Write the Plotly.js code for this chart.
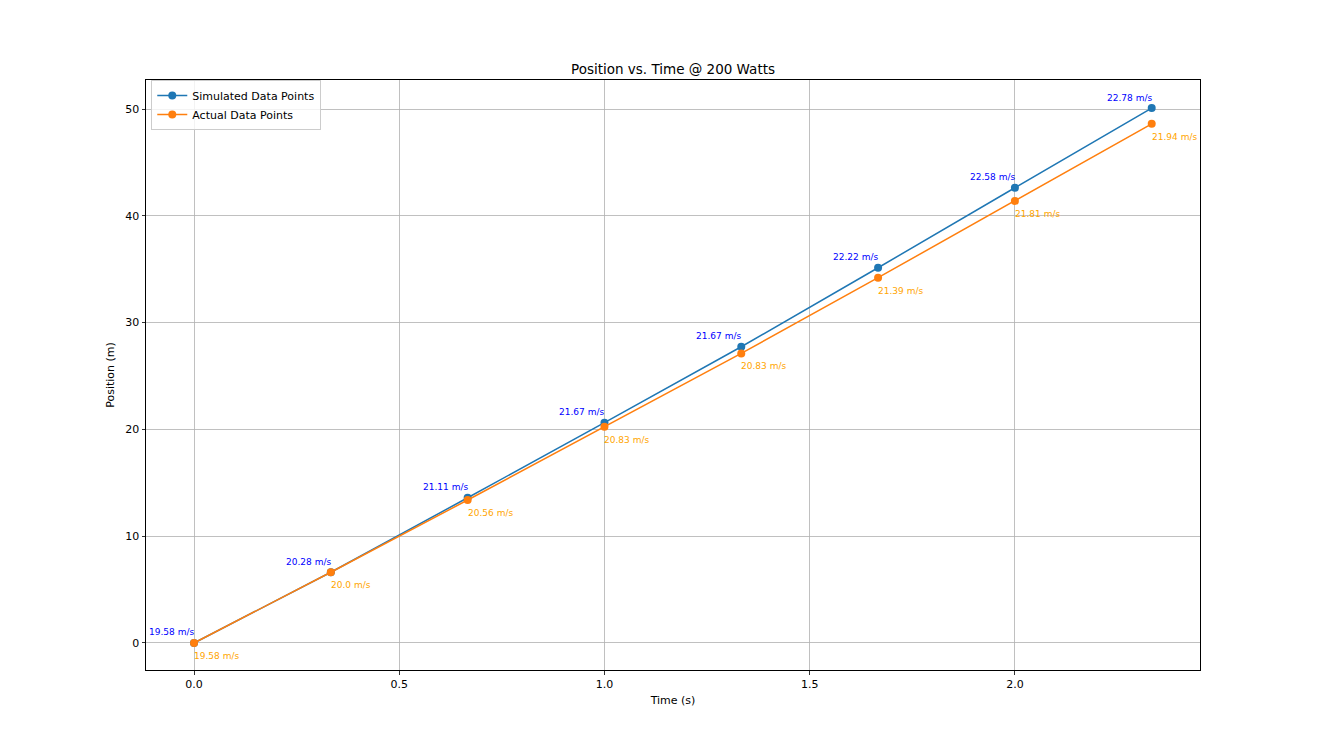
<!DOCTYPE html>
<html>
<head>
<meta charset="utf-8">
<script src="https://cdn.plot.ly/plotly-3.0.1.min.js"></script>
<style>html,body{margin:0;padding:0;background:#fff;}#chart{width:1322px;height:730px;}</style>
</head>
<body>
<div id="chart"></div>
<script>
// Data
const timeS = [0, 1/3, 2/3, 1, 4/3, 5/3, 2, 7/3];
const simulatedPos = [0, 6.62, 13.6, 20.63, 27.74, 35.14, 42.63, 50.09];
const actualPos = [0, 6.62, 13.39, 20.25, 27.12, 34.21, 41.39, 48.62];
const simulatedSpeed = ["19.58", "20.28", "21.11", "21.67", "21.67", "22.22", "22.58", "22.78"];
const actualSpeed = ["19.58", "20.0", "20.56", "20.83", "20.83", "21.39", "21.81", "21.94"];
const xTicks = [0, 0.5, 1.0, 1.5, 2.0];
const xTickText = ["0.0", "0.5", "1.0", "1.5", "2.0"];
const yTicks = [0, 10, 20, 30, 40, 50];

const font = "DejaVu Sans, sans-serif";

const traces = [
  {
    x: timeS, y: simulatedPos, type: "scatter", mode: "lines+markers",
    name: "Simulated Data Points",
    line: {color: "#1f77b4", width: 1.5},
    marker: {color: "#1f77b4", size: 8}
  },
  {
    x: timeS, y: actualPos, type: "scatter", mode: "lines+markers",
    name: "Actual Data Points",
    line: {color: "#ff7f0e", width: 1.5},
    marker: {color: "#ff7f0e", size: 8}
  }
];

const annotations = [];
timeS.forEach((t, i) => {
  annotations.push({
    x: t, y: simulatedPos[i], xref: "x", yref: "y",
    text: simulatedSpeed[i] + " m/s", showarrow: false,
    xanchor: "right", yanchor: "middle", yshift: 10.5, xshift: 2,
    font: {family: font, size: 9, color: "#0000ff"}
  });
  annotations.push({
    x: t, y: actualPos[i], xref: "x", yref: "y",
    text: actualSpeed[i] + " m/s", showarrow: false,
    xanchor: "left", yanchor: "middle", yshift: -13, xshift: -2,
    font: {family: font, size: 9, color: "#ffa500"}
  });
});

const layout = {
  width: 1322, height: 730,
  paper_bgcolor: "#fff", plot_bgcolor: "#fff",
  margin: {l: 146, r: 122, t: 80, b: 60},
  font: {family: font, size: 11, color: "#000"},
  title: {text: "Position vs. Time @ 200 Watts", font: {family: font, size: 13.5, color: "#000"},
          x: 0.5, xanchor: "center", y: 1 - 69/730, yanchor: "middle", xref: "paper"},
  xaxis: {
    range: [-0.117, 2.451], tickvals: xTicks, ticktext: xTickText,
    showgrid: true, gridcolor: "#b0b0b0", gridwidth: 0.8, zeroline: false,
    showline: true, linecolor: "#000", linewidth: 1, mirror: true,
    ticks: "outside", ticklen: 3.5, tickcolor: "#000", tickwidth: 0.8,
    tickfont: {family: font, size: 11, color: "#000"},
    title: {text: "Time (s)", font: {family: font, size: 11, color: "#000"}, standoff: 6}
  },
  yaxis: {
    range: [-2.53, 52.72], tickvals: yTicks,
    showgrid: true, gridcolor: "#b0b0b0", gridwidth: 0.8, zeroline: false,
    showline: true, linecolor: "#000", linewidth: 1, mirror: true,
    ticks: "outside", ticklen: 3.5, tickcolor: "#000", tickwidth: 0.8,
    tickfont: {family: font, size: 11, color: "#000"},
    title: {text: "Position (m)", font: {family: font, size: 11, color: "#000"}, standoff: 8}
  },
  showlegend: true,
  legend: {
    x: 0.005, y: 1.0, xanchor: "left", yanchor: "top",
    bgcolor: "rgba(255,255,255,0.8)", bordercolor: "#cccccc", borderwidth: 1,
    font: {family: font, size: 11, color: "#000"},
    tracegroupgap: 0, itemwidth: 30
  },
  annotations: annotations
};

Plotly.newPlot("chart", traces, layout, {displayModeBar: false, staticPlot: true});
</script>
</body>
</html>
